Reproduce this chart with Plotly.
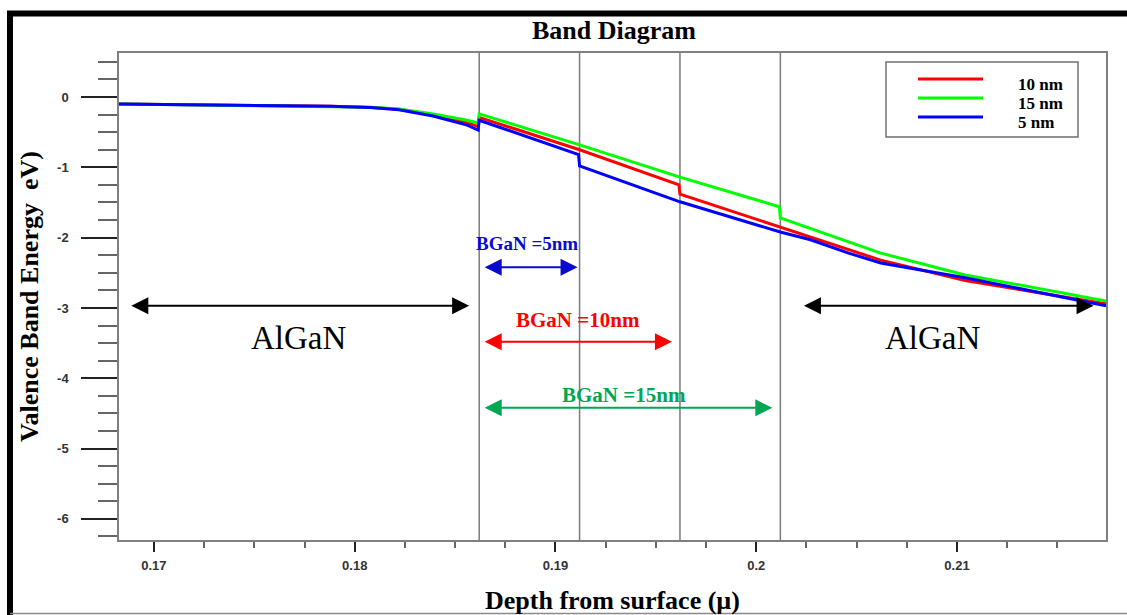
import plotly.graph_objects as go

# ---------------- data ----------------
depth_10 = [0.16826, 0.1715, 0.1751, 0.1788, 0.1808, 0.1822, 0.1839, 0.1856, 0.18615, 0.1862,
            0.1912, 0.19615, 0.1962, 0.2012, 0.2027, 0.2062, 0.2104, 0.21742]
ev_10 = [-0.10, -0.11, -0.12, -0.13, -0.15, -0.175, -0.255, -0.365, -0.42, -0.29,
         -0.75, -1.25, -1.38, -1.85, -1.98, -2.32, -2.61, -2.94]

depth_15 = [0.16826, 0.1715, 0.1751, 0.1788, 0.1808, 0.1822, 0.1839, 0.1856, 0.18615, 0.1862,
            0.1912, 0.1962, 0.20115, 0.2012, 0.2027, 0.2062, 0.2104, 0.21742]
ev_15 = [-0.10, -0.11, -0.12, -0.13, -0.145, -0.17, -0.24, -0.33, -0.37, -0.24,
         -0.68, -1.14, -1.56, -1.72, -1.87, -2.22, -2.53, -2.90]

depth_5 = [0.16826, 0.1715, 0.1751, 0.1788, 0.1808, 0.1822, 0.1839, 0.1856, 0.18615, 0.1862,
           0.19115, 0.1912, 0.1962, 0.2012, 0.2027, 0.2046, 0.2062, 0.2104, 0.21742]
ev_5 = [-0.10, -0.11, -0.12, -0.13, -0.15, -0.18, -0.27, -0.40, -0.47, -0.33,
        -0.82, -0.98, -1.49, -1.92, -2.03, -2.22, -2.36, -2.57, -2.97]

series_names = ["10 nm", "15 nm", "5 nm"]
series_colors = ["#FF0000", "#00FF00", "#0000FF"]

interfaces = [0.1862, 0.1912, 0.1962, 0.2012]

x_tickvals = [0.17, 0.18, 0.19, 0.2, 0.21]
x_ticktext = ["0.17", "0.18", "0.19", "0.2", "0.21"]
y_tickvals = [0, -1, -2, -3, -4, -5, -6]
y_ticktext = ["0", "-1", "-2", "-3", "-4", "-5", "-6"]

# region labels
region_text = ["AlGaN", "AlGaN", "BGaN =5nm", "BGaN =10nm", "BGaN =15nm"]
region_x0 = [0.1688, 0.2023, 0.1864, 0.1864, 0.1864]
region_x1 = [0.1857, 0.2168, 0.1911, 0.1958, 0.2008]
region_arrow_y = [-2.97, -2.97, -2.42, -3.48, -4.42]
region_text_x = [0.1772, 0.2088, 0.1886, 0.1911, 0.1934]
region_text_y = [-3.43, -3.43, -2.08, -3.17, -4.24]
region_color = ["#000000", "#000000", "#0A0ACC", "#FF0000", "#00A651"]
region_size = [33, 33, 19, 21, 21]
region_bold = [False, False, True, True, True]

# ---------------- figure ----------------
W, H = 1127, 615
L, R, T, B = 119, 21, 53, 75
pw, ph = W - L - R, H - T - B


def px_x(p):
    return (p - L) / pw


def px_y(p):
    return (H - B - p) / ph


fig = go.Figure()
for xs, ys, name, col in zip([depth_10, depth_15, depth_5], [ev_10, ev_15, ev_5],
                             series_names, series_colors):
    fig.add_trace(go.Scatter(x=xs, y=ys, mode="lines", name=name, showlegend=False,
                             line=dict(color=col, width=3)))

for xv in interfaces:
    fig.add_shape(type="line", xref="x", yref="paper", x0=xv, x1=xv, y0=0, y1=1,
                  line=dict(color="#7a7a7a", width=1.5), layer="below")

for text, xs0, xs1, ya, xt, yt, col, size, bold in zip(
        region_text, region_x0, region_x1, region_arrow_y, region_text_x, region_text_y,
        region_color, region_size, region_bold):
    fig.add_annotation(x=xs1, y=ya, ax=xs0, ay=ya, xref="x", yref="y", axref="x", ayref="y",
                       text="", showarrow=True, arrowhead=2, arrowside="end+start",
                       arrowsize=1.7, arrowwidth=2, arrowcolor=col, standoff=0, startstandoff=0)
    fig.add_annotation(x=xt, y=yt, xref="x", yref="y", text=text, showarrow=False,
                       font=dict(family="Liberation Serif", size=size, color=col,
                                 weight="bold" if bold else "normal"))

# legend (box, keys, labels)
fig.add_shape(type="rect", xref="paper", yref="paper", x0=px_x(886), x1=px_x(1078),
              y0=px_y(137), y1=px_y(62), line=dict(color="#707070", width=1.5),
              fillcolor="white", layer="above")
key_y = [79, 98, 117]
label_y = [85, 103.5, 122]
for name, col, ky, ly in zip(series_names, series_colors, key_y, label_y):
    fig.add_shape(type="line", xref="paper", yref="paper", x0=px_x(918), x1=px_x(983),
                  y0=px_y(ky), y1=px_y(ky), line=dict(color=col, width=3), layer="above")
    fig.add_annotation(x=px_x(1016), y=px_y(ly), xref="paper", yref="paper", text=name,
                       showarrow=False, xanchor="left", yanchor="middle",
                       font=dict(family="Liberation Serif", size=17, color="black",
                                 weight="bold"))

# outer frame
fig.add_shape(type="line", xref="paper", yref="paper", x0=px_x(7), x1=px_x(1127),
              y0=px_y(13.5), y1=px_y(13.5), line=dict(color="black", width=6))
fig.add_shape(type="line", xref="paper", yref="paper", x0=px_x(10), x1=px_x(10),
              y0=px_y(11), y1=px_y(615), line=dict(color="black", width=6))
fig.add_shape(type="line", xref="paper", yref="paper", x0=px_x(10), x1=px_x(1127),
              y0=px_y(613.5), y1=px_y(613.5), line=dict(color="#8a8a8a", width=1.5))

tickfont = dict(family="Liberation Sans", size=13, color="#333333", weight="bold")
titlefont = dict(family="Liberation Serif", size=26, color="black", weight="bold")

fig.update_layout(
    width=W, height=H,
    margin=dict(l=L, r=R, t=T, b=B, autoexpand=False),
    paper_bgcolor="white", plot_bgcolor="white",
    title=dict(text="Band Diagram", x=px_x(614) * pw / W + L / W, xanchor="center",
               y=1 - 30 / H, yanchor="middle",
               font=dict(family="Liberation Serif", size=26, color="black", weight="bold")),
    showlegend=False,
    xaxis=dict(range=[0.16826, 0.21742], showgrid=False, zeroline=False, automargin=False,
               showline=True, linecolor="#808080", linewidth=1.5, mirror=True,
               tickmode="array", tickvals=x_tickvals, ticktext=x_ticktext,
               ticks="outside", ticklen=10, tickwidth=2, tickcolor="#222222",
               minor=dict(tickmode="linear", tick0=0.17, dtick=0.0025, ticks="outside",
                          ticklen=6, tickwidth=1.5, tickcolor="#666666"),
               tickfont=tickfont, ticklabelstandoff=3,
               title=dict(text="Depth from surface (µ)", font=titlefont, standoff=20)),
    yaxis=dict(range=[-6.3, 0.626], showgrid=False, zeroline=False, automargin=False,
               showline=True, linecolor="#808080", linewidth=1.5, mirror=True,
               tickmode="array", tickvals=y_tickvals, ticktext=y_ticktext,
               ticks="outside", ticklen=36, tickwidth=2, tickcolor="#222222",
               minor=dict(tickmode="linear", tick0=0, dtick=0.25, ticks="outside",
                          ticklen=19, tickwidth=1.5, tickcolor="#666666"),
               tickfont=tickfont, ticklabelstandoff=10,
               title=dict(text="Valence Band Energy  eV)", font=titlefont, standoff=11)),
)

fig.write_html("out.html", config={"displayModeBar": False},
               post_script="document.body.style.margin='0';document.body.style.overflow='hidden';")
